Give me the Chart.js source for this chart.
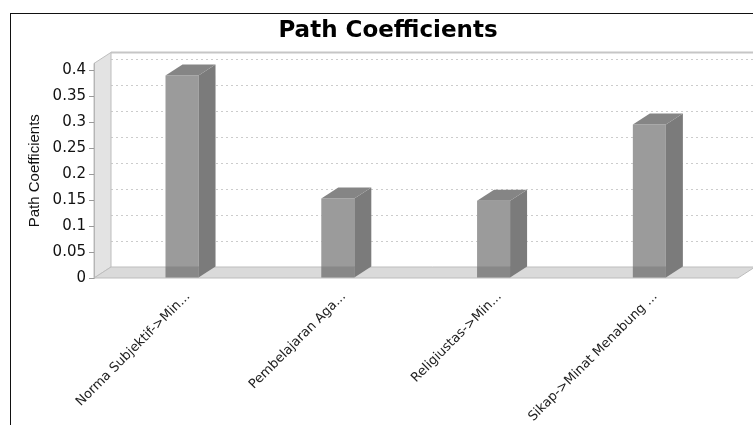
<!DOCTYPE html>
<html>
<head>
<meta charset="utf-8">
<title>Path Coefficients</title>
<script src="https://cdn.jsdelivr.net/npm/chart.js@4.4.1/dist/chart.umd.min.js"></script>
<style>
  html, body { margin: 0; padding: 0; background: #fff; }
  #wrap { position: relative; width: 753px; height: 425px; overflow: hidden; }
  #frame { position: absolute; left: 10px; top: 13px; right: 0; bottom: 0; border-top: 1px solid #111; border-left: 1px solid #111; pointer-events: none; }
</style>
</head>
<body>
<div id="wrap">
  <canvas id="myChart" width="753" height="425"></canvas>
  <div id="frame"></div>
</div>
<script>
const categories = [
    'Norma Subjektif->Min...',
    'Pembelajaran Aga...',
    'Religiustas->Min...',
    'Sikap->Minat Menabung ...'
];
const coefficients = [0.390, 0.153, 0.149, 0.296];
const yTicks = [0, 0.05, 0.1, 0.15, 0.2, 0.25, 0.3, 0.35, 0.4];

// depth of the fake 3d box (px)
const DX = 17;
const DY = -11;

function poly(ctx, pts) {
    ctx.beginPath();
    ctx.moveTo(pts[0][0], pts[0][1]);
    for (let i = 1; i < pts.length; i++) ctx.lineTo(pts[i][0], pts[i][1]);
    ctx.closePath();
}

const box3d = {
    id: 'box3d',
    beforeDraw(chart) {
        const {ctx, chartArea: a, scales: {y}} = chart;
        ctx.save();
        // back wall
        ctx.fillStyle = '#fff';
        ctx.fillRect(a.left + DX, a.top + DY, a.right - a.left, a.bottom - a.top);
        // dashed grid lines sit on the back wall
        ctx.strokeStyle = '#cccccc';
        ctx.lineWidth = 1;
        ctx.setLineDash([2, 3]);
        y.ticks.forEach(t => {
            if (t.value === 0) return;
            const py = Math.round(y.getPixelForValue(t.value) + DY) + 0.5;
            ctx.beginPath();
            ctx.moveTo(a.left + DX, py);
            ctx.lineTo(a.right + DX, py);
            ctx.stroke();
        });
        ctx.setLineDash([]);
        ctx.strokeStyle = '#c6c6c6';
        ctx.lineWidth = 2;
        ctx.beginPath();
        ctx.moveTo(a.left + DX, a.top + DY);
        ctx.lineTo(a.right + DX + 20, a.top + DY);
        ctx.stroke();
        // left wall
        ctx.lineWidth = 1;
        ctx.strokeStyle = '#bdbdbd';
        ctx.fillStyle = '#e3e3e3';
        poly(ctx, [[a.left, a.top], [a.left + DX, a.top + DY], [a.left + DX, a.bottom + DY], [a.left, a.bottom]]);
        ctx.fill();
        ctx.stroke();
        // floor
        ctx.fillStyle = '#dadada';
        poly(ctx, [[a.left, a.bottom], [a.left + DX, a.bottom + DY], [a.right + DX, a.bottom + DY], [a.right, a.bottom]]);
        ctx.fill();
        ctx.stroke();
        ctx.restore();
    },
    afterDatasetsDraw(chart) {
        const ctx = chart.ctx;
        ctx.save();
        chart.getDatasetMeta(0).data.forEach(bar => {
            const {x, y, base, width} = bar.getProps(['x', 'y', 'base', 'width'], true);
            const l = x - width / 2, r = x + width / 2;
            ctx.fillStyle = '#7b7b7b';
            poly(ctx, [[r, y], [r + DX, y + DY], [r + DX, base + DY], [r, base]]);
            ctx.fill();
            ctx.fillStyle = '#858585';
            poly(ctx, [[l, y], [l + DX, y + DY], [r + DX, y + DY], [r, y]]);
            ctx.fill();
            // floor shade over the foot of the bar
            ctx.fillStyle = 'rgba(0,0,0,0.12)';
            ctx.fillRect(l, base + DY, width, -DY);
        });
        ctx.restore();
    }
};

const data = {
    datasets: [{
        label: 'Path Coefficients',
        data: coefficients.map((v, i) => ({x: i, y: v})),
        backgroundColor: '#9b9b9b',
        borderWidth: 0,
        barPercentage: 0.212,
        categoryPercentage: 1
    }]
};

const config = {
    type: 'bar',
    data: data,
    plugins: [box3d],
    options: {
        responsive: false,
        animation: false,
        devicePixelRatio: 1,
        layout: {
            padding: {left: 38, right: 15, top: 0, bottom: 0}
        },
        plugins: {
            legend: {display: false},
            tooltip: {enabled: false},
            title: {
                display: true,
                text: 'Path Coefficients',
                color: '#000',
                font: {family: 'DejaVu Sans', size: 23, weight: 'bold'},
                padding: {top: 17, bottom: 18.8}
            }
        },
        scales: {
            x: {
                type: 'linear',
                offset: false,
                min: -0.565,
                max: 3.569,
                afterBuildTicks: (scale) => {
                    scale.ticks = categories.map((c, i) => ({value: i}));
                },
                afterFit: (scale) => {
                    scale.height = 147;
                },
                grid: {display: false, offset: false},
                border: {display: false},
                ticks: {
                    autoSkip: false,
                    minRotation: 45,
                    maxRotation: 45,
                    padding: 3,
                    labelOffset: 6,
                    color: '#222',
                    font: {family: 'DejaVu Sans', size: 13},
                    callback: (v, i) => categories[i]
                }
            },
            y: {
                min: 0,
                max: 0.4135,
                afterBuildTicks: (scale) => {
                    scale.ticks = yTicks.map(v => ({value: v}));
                },
                afterFit: (scale) => {
                    scale.width = 56;
                },
                grid: {
                    drawOnChartArea: false,
                    drawTicks: true,
                    tickLength: 5,
                    color: '#999'
                },
                border: {display: true, color: '#b5b5b5'},
                ticks: {
                    padding: 3,
                    color: '#111',
                    font: {family: 'DejaVu Sans', size: 15},
                    callback: (v) => String(+v.toFixed(2))
                },
                title: {
                    display: true,
                    text: 'Path Coefficients',
                    color: '#111',
                    font: {family: 'Liberation Sans', size: 15},
                    padding: {top: -12, bottom: 0}
                }
            }
        }
    }
};

const myChart = new Chart(
    document.getElementById('myChart'),
    config
);
</script>
</body>
</html>
